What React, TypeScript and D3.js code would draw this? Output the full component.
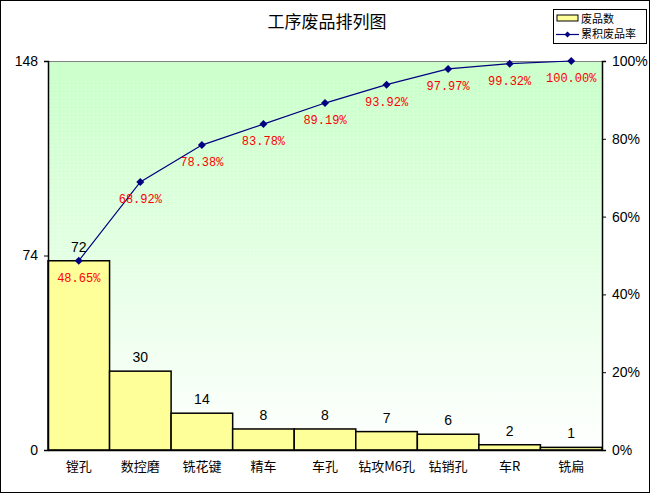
import { useEffect, useRef } from 'react'
import * as d3 from 'd3'

const categories = ['镗孔', '数控磨', '铣花键', '精车', '车孔', '钻攻M6孔', '钻销孔', '车R', '铣扁']
const counts = [72, 30, 14, 8, 8, 7, 6, 2, 1]
const cumulative = [48.65, 68.92, 78.38, 83.78, 89.19, 93.92, 97.97, 99.32, 100.0]
const leftTicks = [0, 74, 148]
const rightTicks = [0, 20, 40, 60, 80, 100]

export default function App() {
  const svgRef = useRef<SVGSVGElement>(null)

  useEffect(() => {
    if (!svgRef.current) return
    const svg = d3.select(svgRef.current)
    svg.selectAll('*').remove()

    const width = 652
    const height = 495
    const plot = { left: 48, right: 602, top: 61, bottom: 450 }
    const cjk = '"Noto Sans CJK SC", sans-serif'
    const sans = '"Liberation Sans", Arial, sans-serif'
    const mono = '"Liberation Mono", "DejaVu Sans Mono", monospace'

    svg.attr('width', width).attr('height', height)

    // outer frame
    svg.append('rect')
      .attr('x', 0.5).attr('y', 0.5)
      .attr('width', width - 3).attr('height', height - 3)
      .attr('fill', 'white')
      .attr('stroke', 'black')

    const defs = svg.append('defs')
    const grad = defs.append('linearGradient')
      .attr('id', 'bg-grad')
      .attr('x1', 0).attr('y1', 0).attr('x2', 0).attr('y2', 1)
    grad.append('stop').attr('offset', '0%').attr('stop-color', '#ccffcc')
    grad.append('stop').attr('offset', '6%').attr('stop-color', '#ccffcc')
    grad.append('stop').attr('offset', '100%').attr('stop-color', '#ffffff')

    const dots = defs.append('pattern')
      .attr('id', 'bg-dots')
      .attr('width', 4).attr('height', 4)
      .attr('patternUnits', 'userSpaceOnUse')
    dots.append('rect').attr('x', 1).attr('y', 1).attr('width', 1).attr('height', 1)
      .attr('fill', '#ffffff').attr('opacity', 0.7)

    const x = d3.scaleBand<string>()
      .domain(categories)
      .range([plot.left, plot.right])
      .padding(0)

    const y = d3.scaleLinear()
      .domain([0, 148])
      .range([plot.bottom, plot.top])

    const yPct = d3.scaleLinear()
      .domain([0, 100])
      .range([plot.bottom, plot.top])

    // plot background
    svg.append('rect')
      .attr('x', plot.left).attr('y', plot.top)
      .attr('width', plot.right - plot.left).attr('height', plot.bottom - plot.top)
      .attr('fill', 'url(#bg-grad)')
    svg.append('rect')
      .attr('x', plot.left).attr('y', plot.top + 20)
      .attr('width', plot.right - plot.left).attr('height', plot.bottom - plot.top - 20)
      .attr('fill', 'url(#bg-dots)')

    // top border gray
    svg.append('line')
      .attr('x1', plot.left).attr('x2', plot.right)
      .attr('y1', plot.top + 0.5).attr('y2', plot.top + 0.5)
      .attr('stroke', '#808080')

    // bars
    svg.append('g')
      .selectAll('rect')
      .data(counts)
      .join('rect')
      .attr('x', (_d, i) => x(categories[i])!)
      .attr('y', d => y(d))
      .attr('width', x.bandwidth())
      .attr('height', d => y(0) - y(d))
      .attr('fill', '#ffff99')
      .attr('stroke', 'black')
      .attr('stroke-width', 1.5)

    // bar value labels
    svg.append('g')
      .selectAll('text')
      .data(counts)
      .join('text')
      .attr('x', (_d, i) => x(categories[i])! + x.bandwidth() / 2)
      .attr('y', d => y(d) - 9)
      .attr('text-anchor', 'middle')
      .attr('font-family', sans)
      .attr('font-size', 14)
      .attr('fill', 'black')
      .text(d => d)

    // left axis
    const leftAxis = svg.append('g')
      .attr('transform', `translate(${plot.left},0)`)
      .call(d3.axisLeft(y).tickValues(leftTicks).tickSize(4).tickPadding(6).tickFormat(d3.format('d')))
    leftAxis.select('.domain').attr('stroke', 'black').attr('stroke-width', 1.5)
    leftAxis.selectAll('text').attr('font-family', sans).attr('font-size', 14).attr('fill', 'black')

    // right axis
    const rightAxis = svg.append('g')
      .attr('transform', `translate(${plot.right},0)`)
      .call(d3.axisRight(yPct).tickValues(rightTicks).tickSize(4).tickPadding(6).tickFormat(d => `${d}%`))
    rightAxis.select('.domain').attr('stroke', 'black').attr('stroke-width', 1.5)
    rightAxis.selectAll('text').attr('font-family', sans).attr('font-size', 14).attr('fill', 'black')

    // bottom axis
    const bottomAxis = svg.append('g')
      .attr('transform', `translate(0,${plot.bottom})`)
      .call(d3.axisBottom(x).tickSize(0).tickPadding(12))
    bottomAxis.select('.domain').attr('stroke', 'black').attr('stroke-width', 1.5)
    bottomAxis.selectAll('text').attr('font-family', cjk).attr('font-size', 13).attr('fill', 'black')

    // cumulative line
    const line = d3.line<number>()
      .x((_d, i) => x(categories[i])! + x.bandwidth() / 2)
      .y(d => yPct(d))

    svg.append('path')
      .datum(cumulative)
      .attr('fill', 'none')
      .attr('stroke', '#000080')
      .attr('stroke-width', 1.2)
      .attr('d', line)

    svg.append('g')
      .selectAll('path')
      .data(cumulative)
      .join('path')
      .attr('transform', (d, i) => `translate(${x(categories[i])! + x.bandwidth() / 2},${yPct(d)})`)
      .attr('d', 'M0,-4L4,0L0,4L-4,0Z')
      .attr('fill', '#000080')

    svg.append('g')
      .selectAll('text')
      .data(cumulative)
      .join('text')
      .attr('x', (_d, i) => x(categories[i])! + x.bandwidth() / 2)
      .attr('y', d => yPct(d) + 21)
      .attr('text-anchor', 'middle')
      .attr('font-family', mono)
      .attr('font-size', 12)
      .attr('fill', '#ff0000')
      .text(d => `${d.toFixed(2)}%`)

    // title
    svg.append('text')
      .attr('x', 327).attr('y', 28)
      .attr('text-anchor', 'middle')
      .attr('font-family', cjk)
      .attr('font-size', 17)
      .attr('fill', 'black')
      .text('工序废品排列图')

    // legend
    const legend = svg.append('g').attr('transform', 'translate(553,9)')
    legend.append('rect')
      .attr('x', 0.5).attr('y', 0.5).attr('width', 93).attr('height', 34)
      .attr('fill', 'white').attr('stroke', 'black')
    legend.append('rect')
      .attr('x', 4).attr('y', 6).attr('width', 21).attr('height', 6)
      .attr('fill', '#ffff99').attr('stroke', 'black')
    legend.append('text')
      .attr('x', 28).attr('y', 14)
      .attr('font-family', cjk).attr('font-size', 11).attr('fill', 'black')
      .text('废品数')
    legend.append('line')
      .attr('x1', 3).attr('x2', 26).attr('y1', 25.5).attr('y2', 25.5)
      .attr('stroke', '#000080').attr('stroke-width', 1.2)
    legend.append('path')
      .attr('transform', 'translate(14.5,25.5)')
      .attr('d', 'M0,-3L3,0L0,3L-3,0Z')
      .attr('fill', '#000080')
    legend.append('text')
      .attr('x', 28).attr('y', 29)
      .attr('font-family', cjk).attr('font-size', 11).attr('fill', 'black')
      .text('累积废品率')
  }, [])

  return (
    <svg ref={svgRef} style={{ position: 'absolute', left: 0, top: 0, display: 'block' }} />
  )
}
